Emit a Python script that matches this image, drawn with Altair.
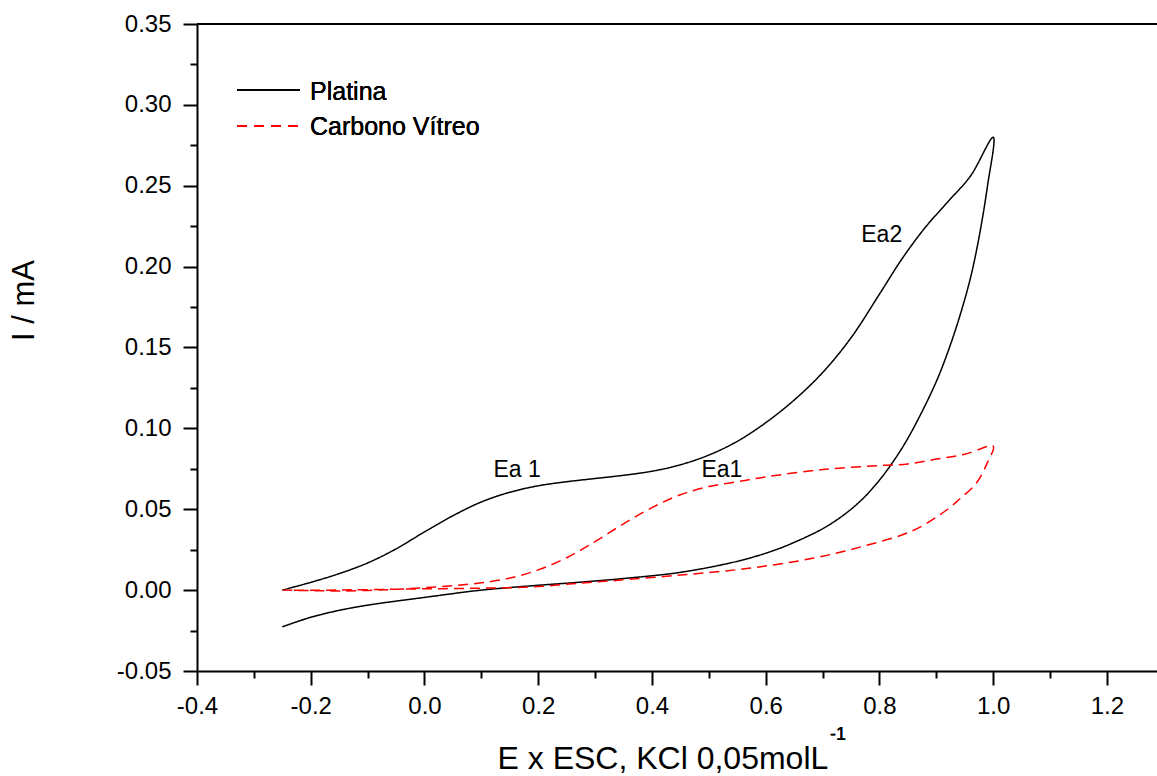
import altair as alt
import pandas as pd

# ---------------- data ----------------
series_names = ["Platina", "Carbono Vítreo"]

# Platina, anodic (forward) scan
pt_fwd_E = [-0.25, -0.20, -0.15, -0.10, -0.05, 0.00, 0.05, 0.10, 0.15, 0.20, 0.25, 0.30,
            0.35, 0.40, 0.45, 0.50, 0.55, 0.60, 0.65, 0.70, 0.75, 0.80, 0.84, 0.88, 0.92,
            0.96, 1.00]
pt_fwd_I = [0.000, 0.0048, 0.0102, 0.0168, 0.0255, 0.0360, 0.0460, 0.0545, 0.0605, 0.0645,
            0.0670, 0.0690, 0.0710, 0.0735, 0.0775, 0.0835, 0.0920, 0.1035, 0.1175, 0.1345,
            0.1560, 0.1830, 0.2050, 0.2240, 0.2400, 0.2560, 0.2800]
# Platina, reverse scan
pt_rev_E = [0.990, 0.975, 0.960, 0.940, 0.920, 0.900, 0.870, 0.840, 0.800, 0.760, 0.710,
            0.650, 0.600, 0.540, 0.450, 0.360, 0.270, 0.200, 0.100, 0.000, -0.050, -0.100,
            -0.150, -0.200, -0.250]
pt_rev_I = [0.250, 0.218, 0.193, 0.168, 0.147, 0.129, 0.107, 0.088, 0.068, 0.053, 0.040,
            0.0295, 0.0228, 0.017, 0.011, 0.0075, 0.0048, 0.003, 0.000, -0.0045, -0.0068,
            -0.0093, -0.0125, -0.0168, -0.0227]

# Carbono Vítreo, forward scan
cv_fwd_E = [-0.25, -0.20, -0.15, -0.10, -0.05, 0.00, 0.05, 0.10, 0.15, 0.20, 0.25, 0.30,
            0.35, 0.40, 0.45, 0.50, 0.55, 0.60, 0.70, 0.80, 0.85, 0.90, 0.95, 1.00]
cv_fwd_I = [0.000, -0.0003, -0.0005, -0.0002, 0.0005, 0.0015, 0.0028, 0.0045, 0.0075, 0.0125,
            0.020, 0.030, 0.041, 0.051, 0.059, 0.064, 0.067, 0.070, 0.0745, 0.077, 0.078,
            0.081, 0.084, 0.089]
# Carbono Vítreo, reverse scan
cv_rev_E = [0.990, 0.970, 0.940, 0.920, 0.860, 0.770, 0.680, 0.570, 0.450, 0.330, 0.270,
            0.190, 0.100, 0.000, -0.100, -0.170, -0.250]
cv_rev_I = [0.079, 0.066, 0.056, 0.050, 0.037, 0.027, 0.0195, 0.0135, 0.0093, 0.0058, 0.0042,
            0.0020, 0.0012, 0.0008, 0.0003, 0.0000, 0.0000]

ann_text = ["Ea 1", "Ea1", "Ea2"]
ann_E = [0.163, 0.523, 0.804]
ann_I = [0.0742, 0.0742, 0.2195]

y_ticks = [round(-0.05 + 0.025 * i, 3) for i in range(17)]
x_ticks = [round(-0.4 + 0.1 * i, 1) for i in range(17)]

# ---------------- build table ----------------
rows = []
for name, es, is_ in [("Platina", pt_fwd_E + pt_rev_E, pt_fwd_I + pt_rev_I),
                      ("Carbono Vítreo", cv_fwd_E + cv_rev_E, cv_fwd_I + cv_rev_I)]:
    for k, (e, i) in enumerate(zip(es, is_)):
        rows.append({"serie": name, "E": e, "I": i, "ordem": k})
df = pd.DataFrame(rows)
ann = pd.DataFrame({"txt": ann_text, "E": ann_E, "I": ann_I})

FONT = "Liberation Sans"
W, H = 960, 647

xscale = alt.Scale(domain=[-0.4, 1.288], nice=False, zero=False)
yscale = alt.Scale(domain=[-0.05, 0.35], nice=False, zero=False)

major_y = "abs(datum.value*20 - round(datum.value*20)) < 0.000001"
major_x = "abs(datum.value*5 - round(datum.value*5)) < 0.000001"

xaxis = alt.Axis(
    values=x_ticks,
    labelExpr=f"{major_x} ? replace(format(datum.value, '.1f'), '\u2212', '-') : ''",
    tickSize={"condition": {"test": major_x, "value": 14}, "value": 7},
    tickWidth=2, tickColor="black", domainWidth=2, domainColor="black",
    labelFont=FONT, labelFontSize=24, labelColor="black", labelPadding=9,
    labelFlush=False, labelOverlap=False, grid=False,
    title="E x ESC, KCl 0,05molL", titleFont=FONT, titleFontSize=32,
    titleFontWeight="normal", titleColor="black", titleAlign="left",
    titleBaseline="alphabetic", titleX=300, titleY=97, titleAngle=0,
)
yaxis = alt.Axis(
    values=y_ticks,
    labelExpr=f"{major_y} ? replace(format(datum.value, '.2f'), '\u2212', '-') : ''",
    tickSize={"condition": {"test": major_y, "value": 14}, "value": 7},
    tickWidth=2, tickColor="black", domainWidth=2, domainColor="black",
    labelFont=FONT, labelFontSize=24, labelColor="black", labelPadding=12,
    labelFlush=False, labelOverlap=False, grid=False,
    title="I / mA", titleFont=FONT, titleFontSize=31, titleFontWeight="normal",
    titleColor="black", titleAlign="center", titleBaseline="alphabetic",
    titleAngle=270, titleX=-164, titleY=276,
)

lines = alt.Chart(df).mark_line(strokeWidth=1.5, interpolate="catmull-rom", clip=True).encode(
    x=alt.X("E:Q", scale=xscale, axis=xaxis),
    y=alt.Y("I:Q", scale=yscale, axis=yaxis),
    color=alt.Color("serie:N", scale=alt.Scale(domain=series_names, range=["#000000", "#ff0000"]),
                    legend=None),
    strokeDash=alt.StrokeDash("serie:N", scale=alt.Scale(domain=series_names, range=[[1, 0], [10, 6]]),
                              legend=None),
    order=alt.Order("ordem:Q"),
)

labels = alt.Chart(ann).mark_text(font=FONT, fontSize=23, color="black",
                                  align="center", baseline="middle").encode(
    x=alt.X("E:Q", scale=xscale), y=alt.Y("I:Q", scale=yscale), text="txt:N")

top_rule = alt.Chart(ann).mark_rule(color="black", strokeWidth=2).encode(
    x=alt.value(0), x2=alt.value(W), y=alt.value(0))

leg_pt_line = alt.Chart(ann).mark_rule(color="black", strokeWidth=1.5).encode(
    x=alt.value(40), x2=alt.value(103), y=alt.value(66))
leg_cv_line = alt.Chart(ann).mark_rule(color="#ff0000", strokeWidth=1.5, strokeDash=[10, 7]).encode(
    x=alt.value(40), x2=alt.value(103), y=alt.value(102))
leg_pt_txt = alt.Chart(ann).mark_text(font=FONT, fontSize=25, color="black", align="left",
                                      baseline="alphabetic", text=series_names[0]).encode(
    x=alt.value(113), y=alt.value(76))
leg_cv_txt = alt.Chart(ann).mark_text(font=FONT, fontSize=25, color="black", align="left",
                                      baseline="alphabetic", text=series_names[1]).encode(
    x=alt.value(113), y=alt.value(111))

sup = alt.Chart(ann).mark_text(font=FONT, fontSize=18, color="black", align="left",
                               baseline="alphabetic", text="-1").encode(
    x=alt.value(633), y=alt.value(716))

chart = alt.layer(lines, labels, top_rule, leg_pt_line, leg_cv_line, leg_pt_txt, leg_cv_txt, sup).properties(
    width=W, height=H,
    autosize=alt.AutoSizeParams(type="none"),
    padding={"left": 197, "top": 24, "right": 0, "bottom": 105},
    background="white",
).configure_view(stroke=None)

chart.save("out.html", embed_options={"renderer": "svg", "actions": False})
